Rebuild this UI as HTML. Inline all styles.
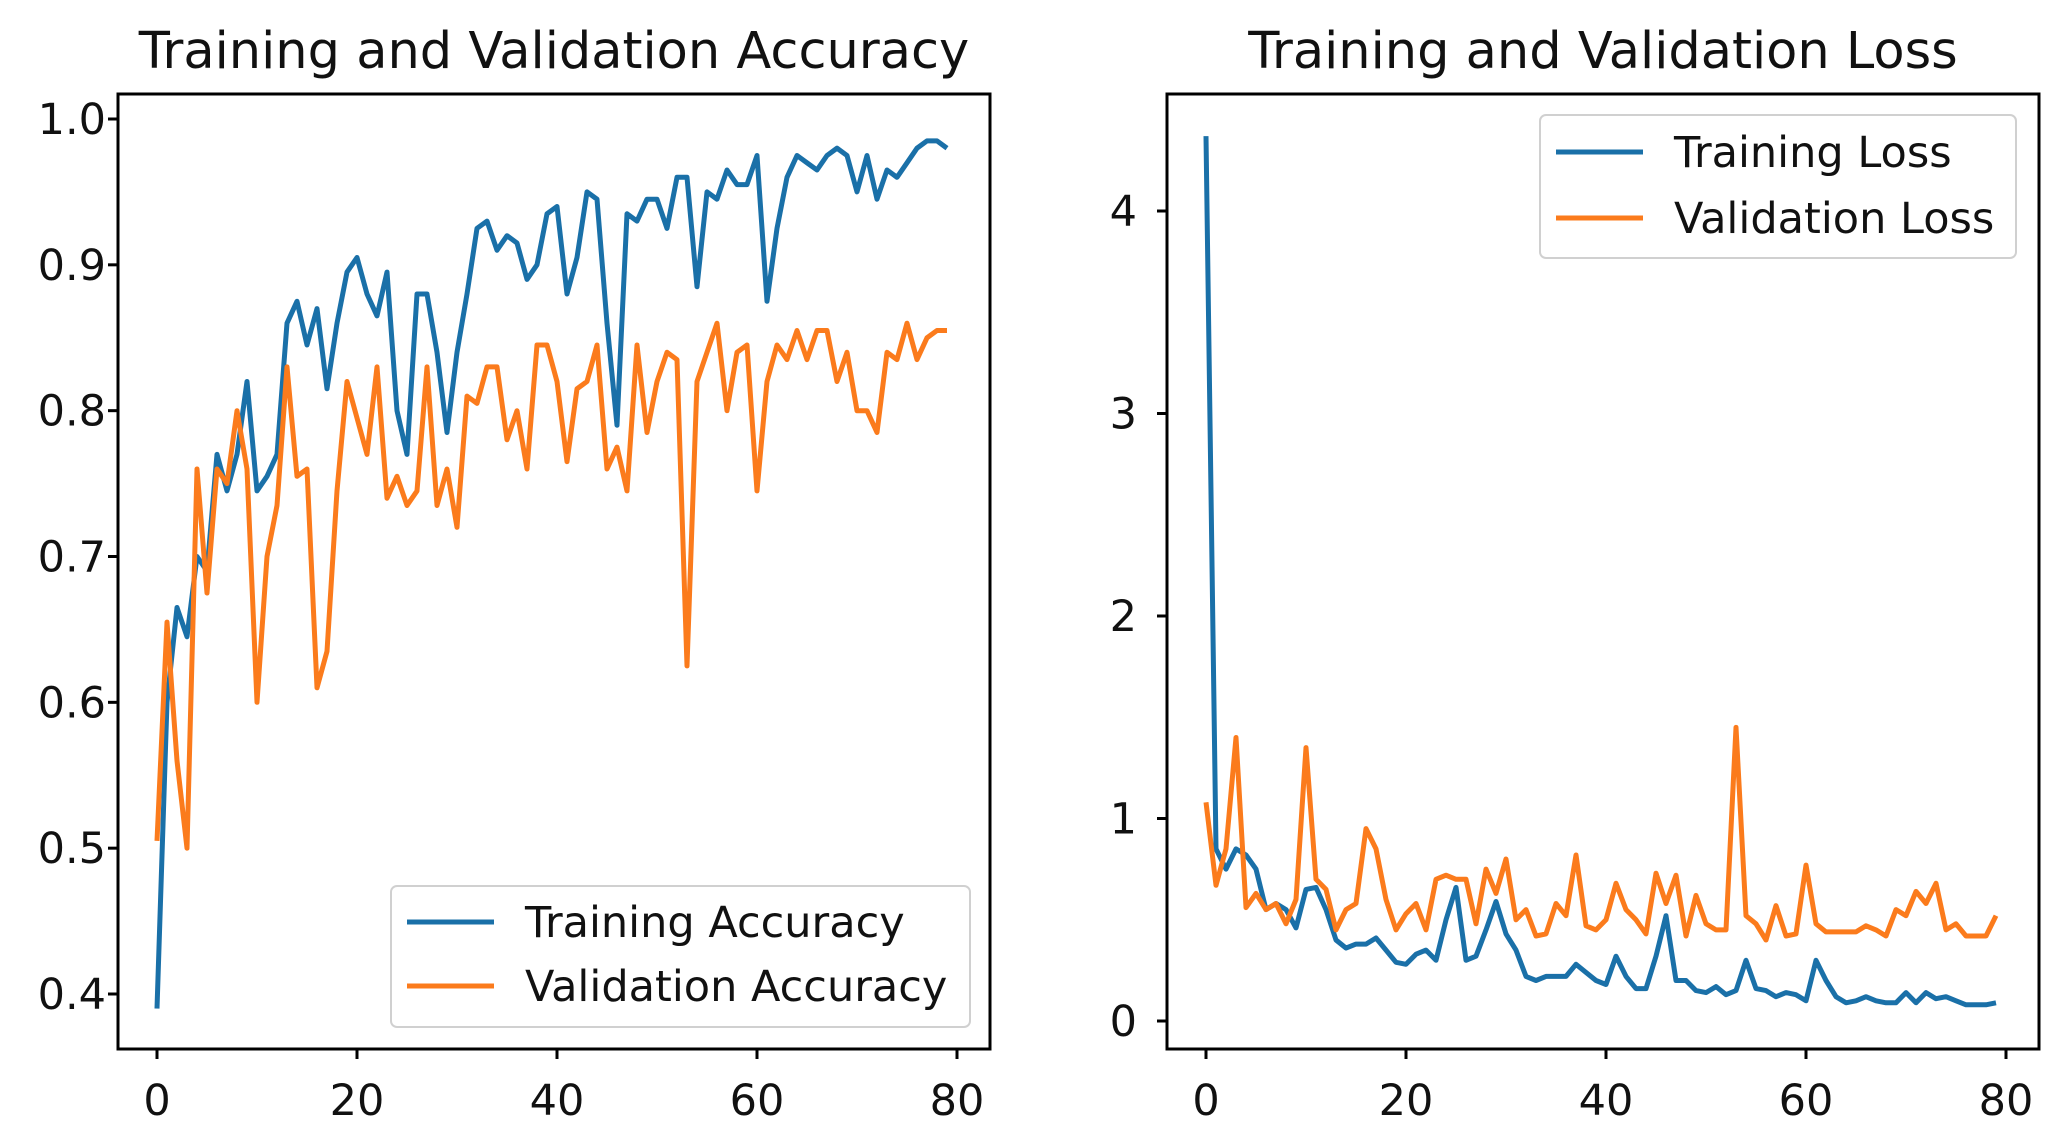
<!DOCTYPE html>
<html><head><meta charset="utf-8">
<style>
html,body{margin:0;padding:0;background:#fff;}
svg{display:block;font-family:"DejaVu Sans","Liberation Sans",sans-serif;}
</style></head>
<body>
<svg id="fig" width="2056" height="1142" viewBox="0 0 2056 1142"></svg>
<script>
const epochs = Array.from({length:80},(_,i)=>i);
const trainAcc = [0.39,0.60,0.665,0.645,0.70,0.69,0.77,0.745,0.77,0.82,0.745,0.755,0.77,0.86,0.875,0.845,0.87,0.815,0.86,0.895,0.905,0.88,0.865,0.895,0.80,0.77,0.88,0.88,0.84,0.785,0.84,0.88,0.925,0.93,0.91,0.92,0.915,0.89,0.90,0.935,0.94,0.88,0.905,0.95,0.945,0.86,0.79,0.935,0.93,0.945,0.945,0.925,0.96,0.96,0.885,0.95,0.945,0.965,0.955,0.955,0.975,0.875,0.925,0.96,0.975,0.97,0.965,0.975,0.98,0.975,0.95,0.975,0.945,0.965,0.96,0.97,0.98,0.985,0.985,0.98];
const valAcc = [0.505,0.655,0.56,0.50,0.76,0.675,0.76,0.75,0.80,0.76,0.60,0.70,0.735,0.83,0.755,0.76,0.61,0.635,0.745,0.82,0.795,0.77,0.83,0.74,0.755,0.735,0.745,0.83,0.735,0.76,0.72,0.81,0.805,0.83,0.83,0.78,0.80,0.76,0.845,0.845,0.82,0.765,0.815,0.82,0.845,0.76,0.775,0.745,0.845,0.785,0.82,0.84,0.835,0.625,0.82,0.84,0.86,0.80,0.84,0.845,0.745,0.82,0.845,0.835,0.855,0.835,0.855,0.855,0.82,0.84,0.80,0.80,0.785,0.84,0.835,0.86,0.835,0.85,0.855,0.855];
const trainLoss = [4.37,0.85,0.75,0.85,0.82,0.75,0.55,0.58,0.55,0.46,0.65,0.66,0.55,0.40,0.36,0.38,0.38,0.41,0.35,0.29,0.28,0.33,0.35,0.30,0.50,0.66,0.30,0.32,0.45,0.59,0.43,0.35,0.22,0.20,0.22,0.22,0.22,0.28,0.24,0.20,0.18,0.32,0.22,0.16,0.16,0.32,0.52,0.20,0.20,0.15,0.14,0.17,0.13,0.15,0.30,0.16,0.15,0.12,0.14,0.13,0.10,0.30,0.20,0.12,0.09,0.10,0.12,0.10,0.09,0.09,0.14,0.09,0.14,0.11,0.12,0.10,0.08,0.08,0.08,0.09];
const valLoss = [1.08,0.67,0.85,1.40,0.56,0.63,0.55,0.58,0.48,0.60,1.35,0.70,0.65,0.45,0.55,0.58,0.95,0.85,0.60,0.45,0.53,0.58,0.45,0.70,0.72,0.70,0.70,0.48,0.75,0.63,0.80,0.50,0.55,0.42,0.43,0.58,0.52,0.82,0.47,0.45,0.50,0.68,0.55,0.50,0.43,0.73,0.58,0.72,0.42,0.62,0.48,0.45,0.45,1.45,0.52,0.48,0.40,0.57,0.42,0.43,0.77,0.48,0.44,0.44,0.44,0.44,0.47,0.45,0.42,0.55,0.52,0.64,0.58,0.68,0.45,0.48,0.42,0.42,0.42,0.52];
const xTicks = [0,20,40,60,80];
const accYTicks = [0.4,0.5,0.6,0.7,0.8,0.9,1.0];
const accYLabels = ["0.4","0.5","0.6","0.7","0.8","0.9","1.0"];
const lossYTicks = [0,1,2,3,4];
const lossYLabels = ["0","1","2","3","4"];

const NS="http://www.w3.org/2000/svg";
const svg=document.getElementById('fig');
function mk(tag,attrs,parent){const e=document.createElementNS(NS,tag);for(const k in attrs)e.setAttribute(k,attrs[k]);(parent||svg).appendChild(e);return e;}
const BLUE="#1a70a8", ORANGE="#fb7b1c";

function panel(cfg){
  const g=mk('g',{});
  
  
  const xs=v=>cfg.x0px+(v-0)*(cfg.x80px-cfg.x0px)/80;
  const ys=v=>cfg.yApx+(v-cfg.yA)*(cfg.yBpx-cfg.yApx)/(cfg.yB-cfg.yA);
  const t=mk('text',{x:(cfg.L+cfg.R)/2,y:68,'font-size':51,'text-anchor':'middle',fill:'#111'},g);
  t.textContent=cfg.title;
  
  
  cfg.series.forEach(s=>{
    const d=s.vals.map((v,i)=>(i?'L':'M')+xs(epochs[i]).toFixed(1)+','+ys(v).toFixed(1)).join(' ');
    const p=mk('path',{d:d,fill:'none',stroke:s.color,'stroke-width':5,'stroke-linejoin':'round'},g);
    
    
  });
  const r=mk('rect',{x:cfg.L,y:94,width:cfg.R-cfg.L,height:1049-94,fill:'none',stroke:'#000','stroke-width':3},g);
  
  
  xTicks.forEach(v=>{
    const x=xs(v);
    mk('line',{x1:x,x2:x,y1:1049,y2:1059,stroke:'#000','stroke-width':3},g);
    const tl=mk('text',{x:x,y:1115,'font-size':43,'text-anchor':'middle',fill:'#111'},g);
    tl.textContent=String(v);
    
    
  });
  cfg.yTicks.forEach((v,i)=>{
    const y=ys(v);
    mk('line',{x1:cfg.L-10,x2:cfg.L,y1:y,y2:y,stroke:'#000','stroke-width':3},g);
    const tl=mk('text',{x:cfg.L-cfg.lblGap,y:y+15,'font-size':43,'text-anchor':'end',fill:'#111'},g);
    tl.textContent=cfg.yLabels[i];
    
    
  });
  const lg=mk('g',{},g);
  
  
  const b=cfg.leg;
  mk('rect',{x:b.x,y:b.y,width:b.w,height:b.h,rx:6,fill:'#fff','fill-opacity':0.85,stroke:'#d0d0d0','stroke-width':2},lg);
  cfg.series.forEach((s,i)=>{
    const yy=b.y+b.first+i*b.gap;
    mk('line',{x1:b.x+16,x2:b.x+103,y1:yy,y2:yy,stroke:s.color,'stroke-width':5},lg);
    const lt=mk('text',{x:b.x+134,y:yy+15,'font-size':43,fill:'#111'},lg);
    lt.textContent=s.label;
    
    
  });
}

panel({name:'accuracy-chart',title:'Training and Validation Accuracy',L:118,R:990,x0px:157,x80px:957,
  yA:1.0,yApx:119,yB:0.4,yBpx:994,yTicks:accYTicks,yLabels:accYLabels,lblGap:12,
  series:[{key:'training-accuracy-line',vals:trainAcc,color:BLUE,label:'Training Accuracy'},
          {key:'validation-accuracy-line',vals:valAcc,color:ORANGE,label:'Validation Accuracy'}],
  leg:{x:391,y:886,w:579,h:141,first:36,gap:64}});
panel({name:'loss-chart',title:'Training and Validation Loss',L:1167,R:2039,x0px:1206,x80px:2006,
  yA:4,yApx:211,yB:0,yBpx:1021,yTicks:lossYTicks,yLabels:lossYLabels,lblGap:30,
  series:[{key:'training-loss-line',vals:trainLoss,color:BLUE,label:'Training Loss'},
          {key:'validation-loss-line',vals:valLoss,color:ORANGE,label:'Validation Loss'}],
  leg:{x:1540,y:115,w:476,h:143,first:37,gap:66}});
</script>
</body></html>
